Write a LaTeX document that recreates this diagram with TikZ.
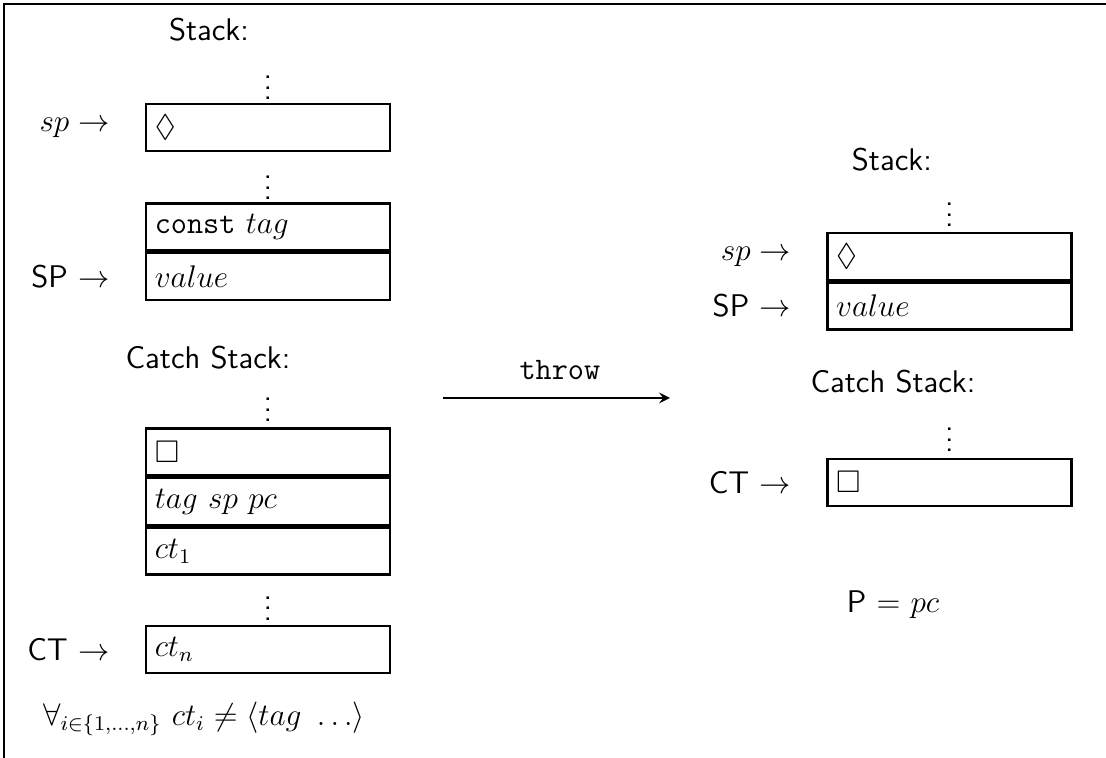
\documentclass[tikz,border=0pt]{standalone}
\usepackage{amsmath, amssymb}
\usepackage{xcolor}
\usepackage{tikz}
\usetikzlibrary{positioning}

\begin{document}
\begin{tikzpicture}[
    >=stealth,
    font=\sffamily\large,
    frame/.style={line width=1.1pt},
    cell/.style={
        draw,
        line width=1pt,
        minimum width=3.29cm,
        minimum height=0.633cm,
        text width=3.05cm,
        inner xsep=0.12cm,
        align=left
    },
    dots/.style={inner sep=0pt}
]

\useasboundingbox (0,0) rectangle (14.9,10.21);

% Frame
\draw[frame] (14.9,10.156) -- (0.054,10.156) -- (0.054,0);

% ---- Before throw ----

% Stack
\node (stacka) at (2.815,9.806) {Stack:};
\node[dots] (dotsa) at (3.61,9.133) {$\vdots$};
\node[cell] (sdiam) at (3.61,8.493) {$\Diamond$};
\node[left=0.35cm of sdiam] (spa) {$sp \rightarrow$};
\node[dots] (dotsb) at (3.61,7.786) {$\vdots$};
\node[cell] (stag) at (3.61,7.153) {\texttt{const} $tag$};
\node[cell, below=0pt of stag] (sval) {$value$};
\node[left=0.35cm of sval] (SPa) {SP $\rightarrow$};

% Catch stack
\node (catcha) at (2.802,5.388) {Catch Stack:};
\node[dots] (dotsc) at (3.61,4.795) {$\vdots$};
\node[cell] (cbox) at (3.61,4.122) {$\Box$};
\node[cell, below=0pt of cbox] (ctag) {$tag\ sp\ pc$};
\node[cell, below=0pt of ctag] (cone) {$ct_1$};
\node[dots] (dotsd) at (3.61,2.115) {$\vdots$};
\node[cell] (cn) at (3.61,1.462) {$ct_n$};
\node[left=0.35cm of cn] (CTa) {CT $\rightarrow$};

\node (cond) at (2.75,0.52)
{$\forall_{i\in\{1,\ldots,n\}}\ ct_i \neq \langle tag\ \ldots\rangle$};

% ---- Throw ----
\coordinate (throwa) at (5.967,4.849);
\coordinate (throwb) at (9.025,4.849);
\draw[thick,->] (throwa) -- (throwb);
\node (throwlbl) at (7.543,5.226) {\texttt{throw}};

% ---- After throw ----

% Stack
\node (stackb) at (12.015,8.055) {Stack:};
\node[dots] (dotse) at (12.79,7.422) {$\vdots$};
\node[cell] (rdiam) at (12.79,6.755) {$\Diamond$};
\node[left=0.35cm of rdiam] (spb) {$sp \rightarrow$};
\node[cell, below=0pt of rdiam] (rval) {$value$};
\node[left=0.35cm of rval] (SPb) {SP $\rightarrow$};

% Catch stack
\node (catchb) at (12.03,5.065) {Catch Stack:};
\node[dots] (dotsf) at (12.79,4.391) {$\vdots$};
\node[cell] (rbox) at (12.79,3.711) {$\Box$};
\node[left=0.35cm of rbox] (CTb) {CT $\rightarrow$};

\node (pc) at (12.03,2.061) {P $=$ $pc$};

\end{tikzpicture}
\end{document}
